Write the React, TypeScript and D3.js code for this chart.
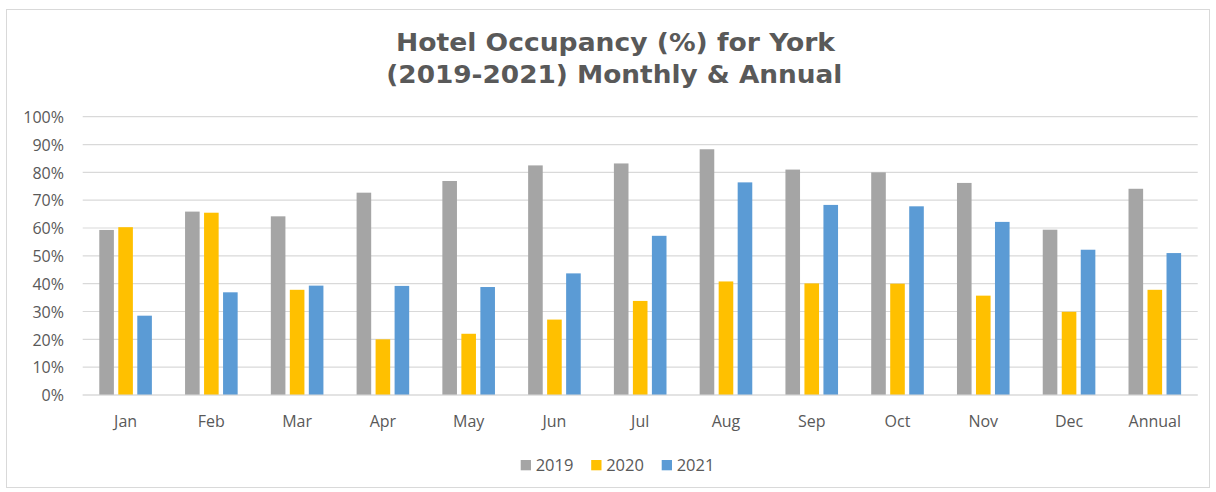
import React from "react";
import * as d3 from "d3";

const categories = ["Jan", "Feb", "Mar", "Apr", "May", "Jun", "Jul", "Aug", "Sep", "Oct", "Nov", "Dec", "Annual"];
const seriesNames = ["2019", "2020", "2021"];
const values2019 = [59.3, 65.9, 64.2, 72.7, 76.9, 82.5, 83.2, 88.3, 81.0, 80.0, 76.2, 59.4, 74.1];
const values2020 = [60.3, 65.5, 37.8, 20.0, 22.0, 27.1, 33.8, 40.8, 40.1, 40.0, 35.7, 29.9, 37.8];
const values2021 = [28.5, 36.9, 39.3, 39.2, 38.8, 43.7, 57.2, 76.4, 68.3, 67.8, 62.2, 52.2, 51.0];
const yTicks = [0, 10, 20, 30, 40, 50, 60, 70, 80, 90, 100];
const colors = ["#A5A5A5", "#FFC000", "#5B9BD5"];

export default function App() {
  const W = 1216, H = 492;
  const left = 82.7, right = 1197.7, top = 116.7, bottom = 395;
  const series = [values2019, values2020, values2021];
  const x = d3.scaleBand<string>().domain(categories).range([left, right]).paddingInner(0).paddingOuter(0);
  const y = d3.scaleLinear().domain([0, 100]).range([bottom, top]);
  const step = x.bandwidth();
  const barW = 14.6;
  const barStep = 19;
  const font = "'Open Sans', 'DejaVu Sans', sans-serif";
  const titleFont = "'DejaVu Sans', Verdana, sans-serif";
  const text = "#595959";

  return (
    <svg width={W} height={H} style={{ position: "absolute", left: 0, top: 0, background: "#fff" }}>
      <rect x={6.5} y={9.5} width={1203} height={478} fill="#fff" stroke="#D9D9D9" strokeWidth={1} />
      <text x={615.5} y={50.7} textAnchor="middle" fontFamily={titleFont} fontWeight="bold" fontSize={24.5} fill={text} textLength={439} lengthAdjust="spacingAndGlyphs">
        Hotel Occupancy (%) for York
      </text>
      <text x={614.3} y={82.5} textAnchor="middle" fontFamily={titleFont} fontWeight="bold" fontSize={24.5} fill={text} textLength={456} lengthAdjust="spacingAndGlyphs">
        (2019-2021) Monthly &amp; Annual
      </text>
      {yTicks.map((t) => (
        <g key={t}>
          <line x1={left} x2={right} y1={y(t)} y2={y(t)} stroke="#D9D9D9" strokeWidth={1.2} />
          <text x={64} y={y(t) + 6.3} textAnchor="end" fontFamily={font} fontSize={16} fill={text}>
            {t}%
          </text>
        </g>
      ))}
      {categories.map((c, i) => {
        const cx = (x(c) as number) + step / 2;
        return (
          <g key={c}>
            {series.map((s, k) => {
              const bx = cx + (k - 1) * barStep - barW / 2;
              return (
                <rect key={k} x={bx} y={y(s[i])} width={barW} height={y(0) - y(s[i])} fill={colors[k]} />
              );
            })}
            <text x={cx} y={426.5} textAnchor="middle" fontFamily={font} fontSize={16} fill={text}>
              {c}
            </text>
          </g>
        );
      })}
      <line x1={left} x2={right} y1={y(0)} y2={y(0)} stroke="#D9D9D9" strokeWidth={1.2} />
      {seriesNames.map((n, k) => {
        const lx = 520.7 + k * 70.5;
        return (
          <g key={n}>
            <rect x={lx} y={460} width={10.3} height={10.3} fill={colors[k]} />
            <text x={lx + 15} y={470.8} fontFamily={font} fontSize={16.5} fill={text}>
              {n}
            </text>
          </g>
        );
      })}
    </svg>
  );
}
